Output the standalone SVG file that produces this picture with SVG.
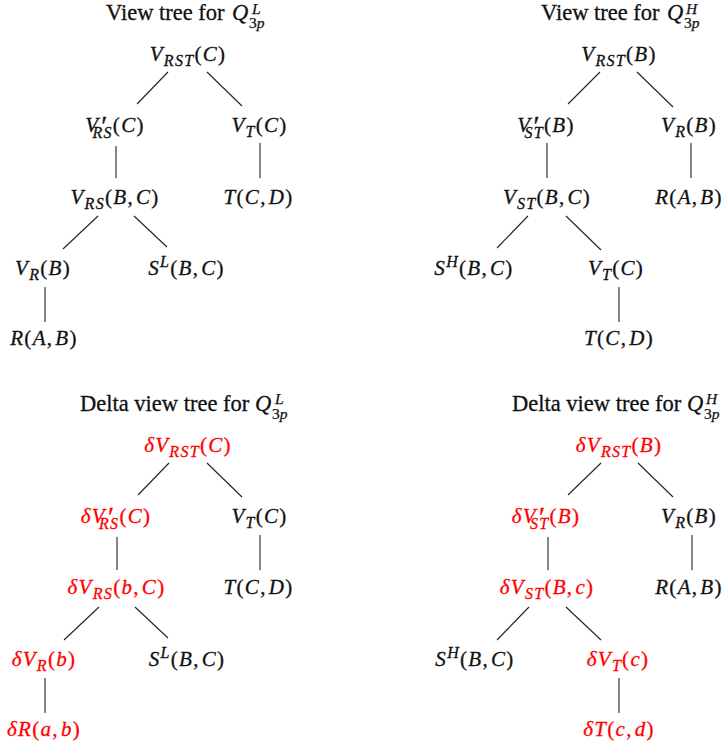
<svg xmlns="http://www.w3.org/2000/svg" width="728" height="749" viewBox="0 0 728 749">
<style>
.t{font-family:"Liberation Serif",serif;font-size:22.5px;fill:#111;stroke:#111;stroke-width:0.3px}
.ts{font-family:"Liberation Serif",serif;font-size:15.5px;fill:#111;stroke:#111;stroke-width:0.25px}
.m{font-family:"Liberation Serif",serif;font-size:21px;letter-spacing:1.3px;fill:#111;stroke:#111;stroke-width:0.3px;text-anchor:middle}
.r{fill:#ff0000;stroke:#ff0000}
.i{font-style:italic}
.s{font-size:16px}
.p{font-size:28px;letter-spacing:0}
.e{stroke:#222;stroke-width:1.1;fill:none}
</style>
<rect width="728" height="749" fill="#fff"/>
<g id="titles">
<g id="title-tl"><text class="t" x="106" y="20">View tree for</text><text class="t i" x="232" y="20">Q</text><text class="ts i" x="252" y="14">L</text><text class="ts" x="249" y="28">3<tspan class="i">p</tspan></text></g>
<g id="title-tr"><text class="t" x="541" y="20">View tree for</text><text class="t i" x="667" y="20">Q</text><text class="ts i" x="686" y="14">H</text><text class="ts" x="684" y="28">3<tspan class="i">p</tspan></text></g>
<g id="title-bl"><text class="t" x="80" y="411">Delta view tree for</text><text class="t i" x="255" y="411">Q</text><text class="ts i" x="275" y="404">L</text><text class="ts" x="272" y="419">3<tspan class="i">p</tspan></text></g>
<g id="title-br"><text class="t" x="512" y="411">Delta view tree for</text><text class="t i" x="687" y="411">Q</text><text class="ts i" x="706" y="404">H</text><text class="ts" x="704" y="419">3<tspan class="i">p</tspan></text></g>
</g>
<g id="connectors">
<line class="e" x1="168" y1="72" x2="137" y2="104"/>
<line class="e" x1="207" y1="72" x2="242" y2="106"/>
<line class="e" x1="116" y1="146" x2="116" y2="178"/>
<line class="e" x1="260" y1="143" x2="260" y2="178"/>
<line class="e" x1="98" y1="216" x2="63" y2="249"/>
<line class="e" x1="134" y1="216" x2="167" y2="247"/>
<line class="e" x1="45" y1="287" x2="45" y2="322"/>
<line class="e" x1="600" y1="72" x2="568" y2="104"/>
<line class="e" x1="637" y1="72" x2="673" y2="107"/>
<line class="e" x1="547" y1="143" x2="547" y2="178"/>
<line class="e" x1="691" y1="143" x2="691" y2="178"/>
<line class="e" x1="528" y1="216" x2="497" y2="248"/>
<line class="e" x1="566" y1="216" x2="601" y2="250"/>
<line class="e" x1="619" y1="287" x2="619" y2="322"/>
<line class="e" x1="169" y1="463" x2="138" y2="495"/>
<line class="e" x1="207" y1="463" x2="242" y2="497"/>
<line class="e" x1="117" y1="537" x2="117" y2="570"/>
<line class="e" x1="260" y1="535" x2="260" y2="570"/>
<line class="e" x1="99" y1="607" x2="64" y2="640"/>
<line class="e" x1="135" y1="607" x2="168" y2="638"/>
<line class="e" x1="45" y1="678" x2="45" y2="713"/>
<line class="e" x1="601" y1="463" x2="568" y2="495"/>
<line class="e" x1="638" y1="463" x2="673" y2="497"/>
<line class="e" x1="548" y1="537" x2="548" y2="570"/>
<line class="e" x1="692" y1="535" x2="692" y2="570"/>
<line class="e" x1="529" y1="607" x2="497" y2="640"/>
<line class="e" x1="566" y1="607" x2="601" y2="640"/>
<line class="e" x1="619" y1="678" x2="619" y2="713"/>
</g>
<!-- top left -->
<g id="tl-vrst"><text class="m" x="188" y="61"><tspan class="i">V</tspan><tspan class="s i" dy="5">RST</tspan><tspan dy="-5">(</tspan><tspan class="i">C</tspan>)</text></g>
<g id="tl-vprs"><text class="m" x="115" y="132"><tspan class="i">V</tspan><tspan class="p" dx="2" dy="3">′</tspan><tspan class="s i" dx="-15" dy="3">RS</tspan><tspan dy="-6">(</tspan><tspan class="i">C</tspan>)</text></g>
<g id="tl-vt"><text class="m" x="259.5" y="132"><tspan class="i">V</tspan><tspan class="s i" dy="5">T</tspan><tspan dy="-5">(</tspan><tspan class="i">C</tspan>)</text></g>
<g id="tl-vrs"><text class="m" x="115" y="204"><tspan class="i">V</tspan><tspan class="s i" dy="5">RS</tspan><tspan dy="-5">(</tspan><tspan class="i">B</tspan>,<tspan class="i" dx="2">C</tspan>)</text></g>
<g id="tl-t"><text class="m" x="258.5" y="204"><tspan class="i">T</tspan>(<tspan class="i">C</tspan>,<tspan class="i" dx="2">D</tspan>)</text></g>
<g id="tl-vr"><text class="m" x="43" y="275"><tspan class="i">V</tspan><tspan class="s i" dy="5">R</tspan><tspan dy="-5">(</tspan><tspan class="i">B</tspan>)</text></g>
<g id="tl-sl"><text class="m" x="186.5" y="275"><tspan class="i">S</tspan><tspan class="s i" dy="-8">L</tspan><tspan dy="8">(</tspan><tspan class="i">B</tspan>,<tspan class="i" dx="2">C</tspan>)</text></g>
<g id="tl-r"><text class="m" x="44" y="345"><tspan class="i">R</tspan>(<tspan class="i">A</tspan>,<tspan class="i" dx="2">B</tspan>)</text></g>
<!-- top right -->
<g id="tr-vrst"><text class="m" x="619" y="61"><tspan class="i">V</tspan><tspan class="s i" dy="5">RST</tspan><tspan dy="-5">(</tspan><tspan class="i">B</tspan>)</text></g>
<g id="tr-vpst"><text class="m" x="546" y="132"><tspan class="i">V</tspan><tspan class="p" dx="2" dy="3">′</tspan><tspan class="s i" dx="-15" dy="3">ST</tspan><tspan dy="-6">(</tspan><tspan class="i">B</tspan>)</text></g>
<g id="tr-vr"><text class="m" x="689" y="132"><tspan class="i">V</tspan><tspan class="s i" dy="5">R</tspan><tspan dy="-5">(</tspan><tspan class="i">B</tspan>)</text></g>
<g id="tr-vst"><text class="m" x="547" y="204"><tspan class="i">V</tspan><tspan class="s i" dy="5">ST</tspan><tspan dy="-5">(</tspan><tspan class="i">B</tspan>,<tspan class="i" dx="2">C</tspan>)</text></g>
<g id="tr-r"><text class="m" x="689" y="204"><tspan class="i">R</tspan>(<tspan class="i">A</tspan>,<tspan class="i" dx="2">B</tspan>)</text></g>
<g id="tr-sh"><text class="m" x="474" y="275"><tspan class="i">S</tspan><tspan class="s i" dy="-8">H</tspan><tspan dy="8">(</tspan><tspan class="i">B</tspan>,<tspan class="i" dx="2">C</tspan>)</text></g>
<g id="tr-vt"><text class="m" x="616" y="275"><tspan class="i">V</tspan><tspan class="s i" dy="5">T</tspan><tspan dy="-5">(</tspan><tspan class="i">C</tspan>)</text></g>
<g id="tr-t"><text class="m" x="619" y="345"><tspan class="i">T</tspan>(<tspan class="i">C</tspan>,<tspan class="i" dx="2">D</tspan>)</text></g>
<!-- bottom left -->
<g id="bl-dvrst"><text class="m r" x="188" y="452"><tspan class="i">δV</tspan><tspan class="s i" dy="5">RST</tspan><tspan dy="-5">(</tspan><tspan class="i">C</tspan>)</text></g>
<g id="bl-dvprs"><text class="m r" x="116" y="523"><tspan class="i">δV</tspan><tspan class="p" dx="2" dy="3">′</tspan><tspan class="s i" dx="-15" dy="3">RS</tspan><tspan dy="-6">(</tspan><tspan class="i">C</tspan>)</text></g>
<g id="bl-vt"><text class="m" x="259.5" y="523"><tspan class="i">V</tspan><tspan class="s i" dy="5">T</tspan><tspan dy="-5">(</tspan><tspan class="i">C</tspan>)</text></g>
<g id="bl-dvrs"><text class="m r" x="116.5" y="594"><tspan class="i">δV</tspan><tspan class="s i" dy="5">RS</tspan><tspan dy="-5">(</tspan><tspan class="i">b</tspan>,<tspan class="i" dx="2">C</tspan>)</text></g>
<g id="bl-t"><text class="m" x="258.5" y="594"><tspan class="i">T</tspan>(<tspan class="i">C</tspan>,<tspan class="i" dx="2">D</tspan>)</text></g>
<g id="bl-dvr"><text class="m r" x="44" y="666"><tspan class="i">δV</tspan><tspan class="s i" dy="5">R</tspan><tspan dy="-5">(</tspan><tspan class="i">b</tspan>)</text></g>
<g id="bl-sl"><text class="m" x="187" y="666"><tspan class="i">S</tspan><tspan class="s i" dy="-8">L</tspan><tspan dy="8">(</tspan><tspan class="i">B</tspan>,<tspan class="i" dx="2">C</tspan>)</text></g>
<g id="bl-dr"><text class="m r" x="44" y="736"><tspan class="i">δR</tspan>(<tspan class="i">a</tspan>,<tspan class="i" dx="2">b</tspan>)</text></g>
<!-- bottom right -->
<g id="br-dvrst"><text class="m r" x="619" y="452"><tspan class="i">δV</tspan><tspan class="s i" dy="5">RST</tspan><tspan dy="-5">(</tspan><tspan class="i">B</tspan>)</text></g>
<g id="br-dvpst"><text class="m r" x="546" y="523"><tspan class="i">δV</tspan><tspan class="p" dx="2" dy="3">′</tspan><tspan class="s i" dx="-15" dy="3">ST</tspan><tspan dy="-6">(</tspan><tspan class="i">B</tspan>)</text></g>
<g id="br-vr"><text class="m" x="689" y="523"><tspan class="i">V</tspan><tspan class="s i" dy="5">R</tspan><tspan dy="-5">(</tspan><tspan class="i">B</tspan>)</text></g>
<g id="br-dvst"><text class="m r" x="547" y="594"><tspan class="i">δV</tspan><tspan class="s i" dy="5">ST</tspan><tspan dy="-5">(</tspan><tspan class="i">B</tspan>,<tspan class="i" dx="2">c</tspan>)</text></g>
<g id="br-r"><text class="m" x="689" y="594"><tspan class="i">R</tspan>(<tspan class="i">A</tspan>,<tspan class="i" dx="2">B</tspan>)</text></g>
<g id="br-sh"><text class="m" x="475" y="666"><tspan class="i">S</tspan><tspan class="s i" dy="-8">H</tspan><tspan dy="8">(</tspan><tspan class="i">B</tspan>,<tspan class="i" dx="2">C</tspan>)</text></g>
<g id="br-dvt"><text class="m r" x="618" y="666"><tspan class="i">δV</tspan><tspan class="s i" dy="5">T</tspan><tspan dy="-5">(</tspan><tspan class="i">c</tspan>)</text></g>
<g id="br-dt"><text class="m r" x="619" y="736"><tspan class="i">δT</tspan>(<tspan class="i">c</tspan>,<tspan class="i" dx="2">d</tspan>)</text></g>
</svg>
